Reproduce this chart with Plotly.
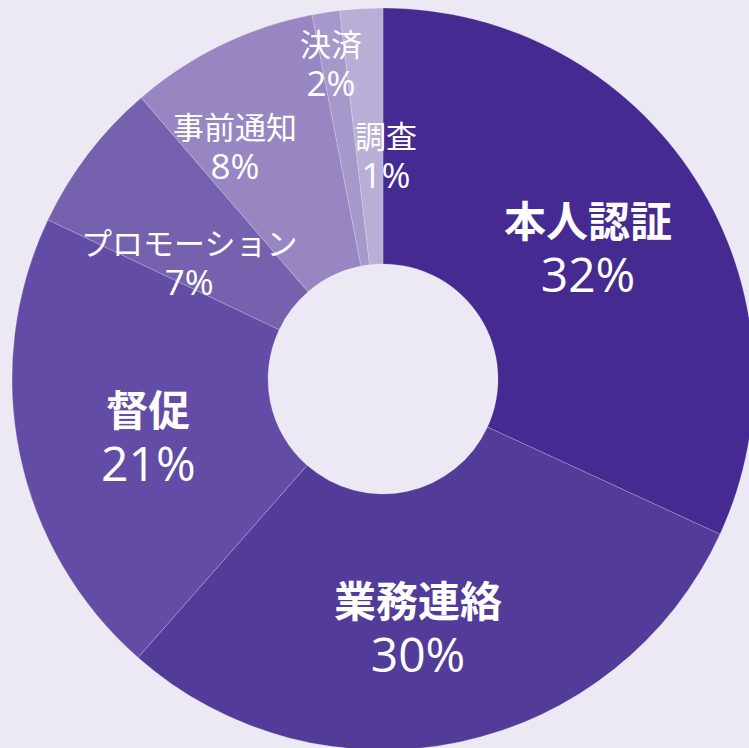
import math
import plotly.graph_objects as go

# ---- data ----
categories = ["本人認証", "業務連絡", "督促", "プロモーション", "事前通知", "決済", "調査"]
values = [31.87, 29.61, 20.58, 6.64, 8.24, 1.20, 1.86]
pct_labels = ["32%", "30%", "21%", "7%", "8%", "2%", "1%"]

# ---- styling ----
colors = ["#452a92", "#533b99", "#634ca5", "#7561ae", "#9886c3", "#a698cb", "#b8aed6"]
bg = "#ECE9F4"
label_r = [0.654, 0.68, 0.653, 0.609, 0.74, 0.86, 0.60]      # fraction of radius
label_dang = [0.1, 4.0, -2.5, -6.5, -6.8, -0.5, 4.1]         # degrees offset from slice middle
label_size = [42, 42, 42, 31, 31, 31, 31]
pct_size = [48, 48, 48, 35, 35, 35, 35]
label_bold = [True, True, True, False, False, False, False]

W, H = 766, 758
R = 371
hole = 115 / R

fig = go.Figure(go.Pie(
    labels=categories,
    values=values,
    sort=False,
    direction="clockwise",
    rotation=0,
    hole=hole,
    textinfo="none",
    hoverinfo="skip",
    showlegend=False,
    marker=dict(colors=colors, line=dict(color="rgba(255,255,255,0.25)", width=0.8)),
    domain=dict(x=[0.5 - R / W, 0.5 + R / W], y=[0.5 - R / H, 0.5 + R / H]),
))

total = sum(values)
cum = 0.0
annotations = []
for cat, v, pct, rf, da, fs, ps, b in zip(categories, values, pct_labels, label_r,
                                           label_dang, label_size, pct_size, label_bold):
    theta = math.radians((cum + v / 2) / total * 360 + da)
    cum += v
    px = W / 2 + rf * R * math.sin(theta)
    py = H / 2 + rf * R * math.cos(theta)
    first = f"<b>{cat}</b>" if b else cat
    annotations.append(dict(
        x=px / W, y=py / H, xref="paper", yref="paper",
        xanchor="center", yanchor="middle", showarrow=False,
        text=f"{first}<br><span style=\"font-size:{ps}px\">{pct}</span>",
        font=dict(size=fs, color="white", family="Open Sans, Noto Sans CJK JP"),
        align="center",
    ))

fig.update_layout(
    width=W, height=H,
    margin=dict(l=0, r=0, t=0, b=0),
    paper_bgcolor=bg, plot_bgcolor=bg,
    annotations=annotations,
)

fig.write_html(
    "out.html",
    config={"displayModeBar": False},
    post_script="document.body.style.margin='0';document.body.style.overflow='hidden';"
                "document.documentElement.style.overflow='hidden';document.body.style.background='" + bg + "';",
)
